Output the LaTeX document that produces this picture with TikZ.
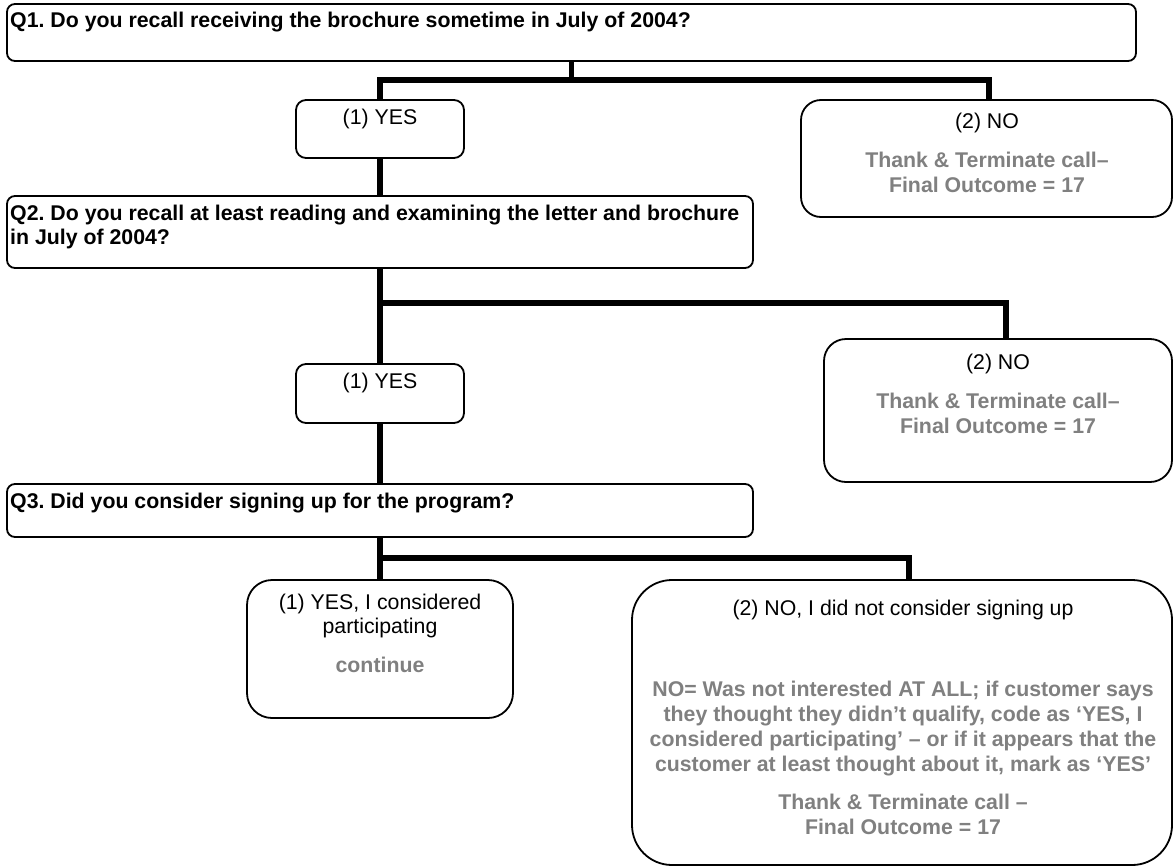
\documentclass[tikz,border=0pt]{standalone}
\usepackage{fontspec}
\setmainfont{Liberation Sans}
\frenchspacing
\definecolor{note}{RGB}{128,128,128}
\begin{document}
\begin{tikzpicture}[x=1pt,y=-1pt,
  box/.style={draw=black, line width=1.8pt, fill=white, rounded corners=#1,
    anchor=north west, inner sep=0pt, outer sep=0pt},
  box/.default=8pt,
  conn/.style={line width=5.5pt},
  qtext/.style={font=\fontsize{21.3}{24}\selectfont\bfseries, align=left,
    anchor=north west, inner sep=0pt},
  atext/.style={font=\fontsize{21.3}{23.5}\selectfont, align=center,
    anchor=north, inner sep=0pt},
  gtext/.style={font=\fontsize{21.3}{24.8}\selectfont\bfseries, text=note,
    align=center, anchor=north, inner sep=0pt}]

% page
\useasboundingbox[fill=white] (0,0) rectangle (1174,867);

% question boxes and answer boxes
\node[box=8pt,  minimum width=1129pt, minimum height=57pt]  (q1)   at (7,4)     {};
\node[box=10pt, minimum width=168pt,  minimum height=58pt]  (yes1) at (296,100) {};
\node[box=20pt, minimum width=371pt,  minimum height=117pt] (no1)  at (801,100) {};
\node[box=8pt,  minimum width=746pt,  minimum height=72pt]  (q2)   at (7,196)   {};
\node[box=10pt, minimum width=168pt,  minimum height=59pt]  (yes2) at (296,364) {};
\node[box=22pt, minimum width=348pt,  minimum height=143pt] (no2)  at (824,339) {};
\node[box=8pt,  minimum width=746pt,  minimum height=53pt]  (q3)   at (7,484)   {};
\node[box=25pt, minimum width=266pt,  minimum height=138pt] (yes3) at (247,580) {};
\node[box=40pt, minimum width=540pt,  minimum height=285pt] (no3)  at (632,580) {};

% branch corners
\coordinate (j1) at (989,80);
\coordinate (j2) at (1006,303);
\coordinate (j3) at (909,558);

% connectors
\draw[conn] (q1.south) -- (q1.south |- j1);
\draw[conn] (yes1.north) |- (j1) -- (j1 |- no1.north);
\draw[conn] (yes1.south) -- (yes1.south |- q2.north);

\draw[conn] (q2.south) -- (q2.south |- yes2.north);
\draw[conn] (q2.south |- j2) -- (j2) -- (j2 |- no2.north);
\draw[conn] (yes2.south) -- (yes2.south |- q3.north);

\draw[conn] (q3.south) -- (q3.south |- yes3.north);
\draw[conn] (q3.south |- j3) -- (j3) -- (j3 |- no3.north);

% questions
\node[qtext] (q1t) at (10,12) {Q1. Do you recall receiving the brochure sometime in July of 2004?};
\node[qtext] (q2t) at (10,205) {Q2. Do you recall at least reading and examining the letter and brochure\\in July of 2004?};
\node[qtext] (q3t) at (10,493) {Q3. Did you consider signing up for the program?};

% answers
\node[atext] (yes1t) at (380,109) {(1) YES};
\node[atext] (no1t)  at (987,113) {(2) NO};
\node[gtext] (no1g)  at (987,152) {Thank \& Terminate call--\\Final Outcome = 17};

\node[atext] (yes2t) at (380,373) {(1) YES};
\node[atext] (no2t)  at (998,354) {(2) NO};
\node[gtext] (no2g)  at (998,393) {Thank \& Terminate call--\\Final Outcome = 17};

\node[atext] (yes3t) at (380,594) {(1) YES, I considered\\participating};
\node[gtext, anchor=base] (yes3g) at (380,672) {continue};

\node[atext] (no3t)  at (903,600) {(2) NO, I did not consider signing up};
\node[gtext] (no3g)  at (903,681) {NO= Was not interested AT ALL; if customer says\\
  they thought they didn’t qualify, code as ‘YES, I\\
  considered participating’ -- or if it appears that the\\
  customer at least thought about it, mark as ‘YES’};
\node[gtext] (no3e)  at (903,794) {Thank \& Terminate call --\\Final Outcome = 17};
\end{tikzpicture}
\end{document}
